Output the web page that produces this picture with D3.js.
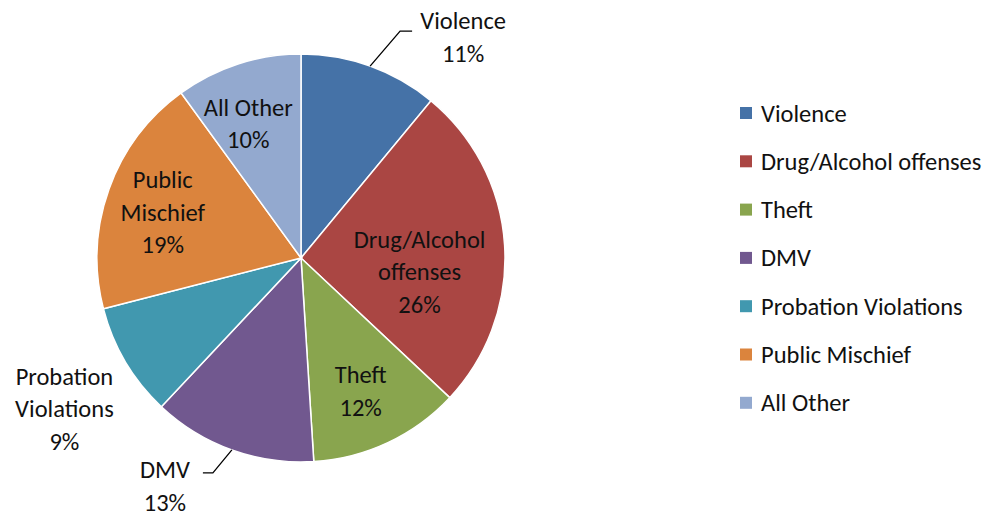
<!DOCTYPE html>
<html>
<head>
<meta charset="utf-8">
<script src="https://cdn.jsdelivr.net/npm/d3@7"></script>
<style>
  body { margin: 0; background: #fff; }
  text { font-family: Carlito, Lato, "Open Sans", sans-serif; fill: #111; }
</style>
</head>
<body>
<div id="chart"></div>
<script>
const categories = ["Violence", "Drug/Alcohol offenses", "Theft", "DMV", "Probation Violations", "Public Mischief", "All Other"];
const values = [11, 26, 12, 13, 9, 19, 10];
const colors = ["#4572A7", "#AA4643", "#89A54E", "#71588F", "#4198AF", "#DB843D", "#93A9CF"];
// how each slice label is broken into lines
const labelLines = [["Violence"], ["Drug/Alcohol", "offenses"], ["Theft"], ["DMV"], ["Probation", "Violations"], ["Public", "Mischief"], ["All Other"]];

const width = 1008, height = 514;
const cx = 301, cy = 258, R = 204;
const fontSize = 24.5, lineH = 32.5;

// label placement: inside = on centroid ring with a nudge; outside = offset from arc edge, optional leader
const placement = {
  "Violence": { out: true, label: [93, -29], leader: [[30, -35], [42, -35]] },
  "Drug/Alcohol offenses": { nudge: [-26, 23] },
  "Theft": { nudge: [-2, 2] },
  "DMV": { out: true, label: [-67, 36], leader: [[-19, 23], [-29, 23]] },
  "Probation Violations": { out: true, label: [-61, 47] },
  "Public Mischief": { nudge: [-2, 3] },
  "All Other": { nudge: [-8, 3] }
};

const data = categories.map((c, i) => ({ name: c, value: values[i], color: colors[i], lines: labelLines[i] }));

const svg = d3.select("#chart").append("svg")
  .attr("width", width).attr("height", height);

const pie = d3.pie().sort(null).value(d => d.value);
const arc = d3.arc().innerRadius(0).outerRadius(R);
const labelArc = d3.arc().innerRadius(R * 0.71).outerRadius(R * 0.71);
const edgeArc = d3.arc().innerRadius(R).outerRadius(R);

const g = svg.append("g").attr("transform", `translate(${cx},${cy})`);
const arcs = pie(data);

g.selectAll("path.slice")
  .data(arcs)
  .join("path")
  .attr("class", "slice")
  .attr("d", arc)
  .attr("fill", d => d.data.color)
  .attr("stroke", "#fff")
  .attr("stroke-width", 1.5);

const total = d3.sum(values);
arcs.forEach(a => {
  const p = placement[a.data.name];
  let pos;
  if (p.out) {
    const e = edgeArc.centroid(a);
    pos = [e[0] + p.label[0], e[1] + p.label[1]];
    if (p.leader) {
      const pts = [e].concat(p.leader.map(q => [e[0] + q[0], e[1] + q[1]]));
      g.append("path")
        .attr("d", d3.line()(pts))
        .attr("fill", "none")
        .attr("stroke", "#000")
        .attr("stroke-width", 1.3);
    }
  } else {
    const c = labelArc.centroid(a);
    pos = [c[0] + p.nudge[0], c[1] + p.nudge[1]];
  }
  const lines = a.data.lines.concat([Math.round(a.data.value / total * 100) + "%"]);
  const t = g.append("text")
    .attr("text-anchor", "middle")
    .attr("font-size", fontSize);
  lines.forEach((l, i) => {
    t.append("tspan")
      .attr("x", pos[0])
      .attr("y", pos[1] + (i - (lines.length - 1) / 2) * lineH)
      .attr("dy", "0.35em")
      .text(l);
  });
});

// legend
const legend = svg.append("g").attr("transform", "translate(740,113)");
const rowH = 48.3;
const item = legend.selectAll("g")
  .data(data)
  .join("g")
  .attr("transform", (d, i) => `translate(0,${i * rowH})`);
item.append("rect")
  .attr("x", 0).attr("y", -6)
  .attr("width", 12).attr("height", 12)
  .attr("fill", d => d.color);
item.append("text")
  .attr("x", 21).attr("dy", "0.35em")
  .attr("font-size", fontSize)
  .text(d => d.name);
</script>
</body>
</html>
